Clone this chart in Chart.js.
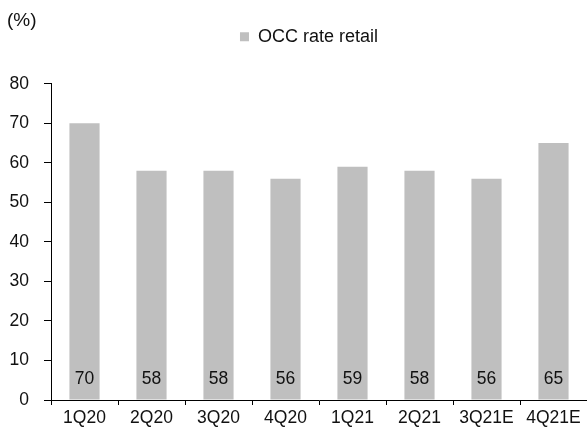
<!DOCTYPE html>
<html>
<head>
<meta charset="utf-8">
<script src="https://cdn.jsdelivr.net/npm/chart.js@4/dist/chart.umd.min.js"></script>
<style>
  html, body { margin: 0; padding: 0; background: #ffffff; }
  #wrap { width: 587px; height: 432px; position: relative; }
</style>
</head>
<body>
<div id="wrap"><canvas id="c" width="587" height="432"></canvas></div>
<script>
const categories = ['1Q20', '2Q20', '3Q20', '4Q20', '1Q21', '2Q21', '3Q21E', '4Q21E'];
const occRateRetail = [70, 58, 58, 56, 59, 58, 56, 65];
const seriesName = 'OCC rate retail';
const unitLabel = '(%)';
const yTicks = [0, 10, 20, 30, 40, 50, 60, 70, 80];

const FONT = '"Liberation Sans", Arial, sans-serif';
const TXT = '#111111';

const barLabels = {
  id: 'barLabels',
  afterDatasetsDraw(chart) {
    const ctx = chart.ctx;
    const meta = chart.getDatasetMeta(0);
    const y0 = chart.scales.y.getPixelForValue(0);
    ctx.save();
    ctx.font = '17.5px ' + FONT;
    ctx.fillStyle = TXT;
    ctx.textAlign = 'center';
    ctx.textBaseline = 'middle';
    meta.data.forEach((bar, i) => {
      ctx.fillText(String(chart.data.datasets[0].data[i]), bar.x, y0 - 21);
    });
    ctx.restore();
  }
};

const legendShift = {
  id: 'legendShift',
  afterLayout(chart) {
    const lg = chart.legend;
    if (!lg) return;
    lg.left += 12; lg.right += 12;
    lg.top -= 28; lg.bottom -= 28;
  }
};

new Chart(document.getElementById('c'), {
  type: 'bar',
  data: {
    labels: categories,
    datasets: [{
      label: seriesName,
      data: occRateRetail,
      backgroundColor: '#bfbfbf',
      borderWidth: 0,
      barPercentage: 0.45,
      categoryPercentage: 1.0
    }]
  },
  options: {
    responsive: false,
    animation: false,
    devicePixelRatio: 1,
    layout: { padding: { left: 7, top: 0, right: 0, bottom: 0 } },
    plugins: {
      title: {
        display: true,
        text: unitLabel,
        align: 'start',
        color: TXT,
        font: { family: FONT, size: 19, weight: 'normal' },
        padding: { top: 9, bottom: 14 }
      },
      legend: {
        display: true,
        position: 'top',
        align: 'center',
        labels: {
          color: TXT,
          font: { family: FONT, size: 18 },
          boxWidth: 9,
          boxHeight: 9,
          padding: 10
        }
      },
      tooltip: { enabled: false }
    },
    scales: {
      x: {
        offset: true,
        grid: { display: true, drawOnChartArea: false, drawTicks: true, tickLength: 5, color: '#000', offset: true },
        border: { display: true, color: '#000', width: 1 },
        ticks: { color: TXT, font: { family: FONT, size: 17.5 }, padding: 3, maxRotation: 0, autoSkip: false }
      },
      y: {
        min: 0,
        max: 80,
        afterBuildTicks(scale) { scale.ticks = yTicks.map(v => ({ value: v })); },
        afterFit(scale) { scale.width = 44; },
        grid: { display: true, drawOnChartArea: false, drawTicks: true, tickLength: 7, color: '#000' },
        border: { display: true, color: '#000', width: 1 },
        ticks: { color: TXT, font: { family: FONT, size: 17.5 }, padding: 15 }
      }
    }
  },
  plugins: [barLabels, legendShift]
});
</script>
</body>
</html>
